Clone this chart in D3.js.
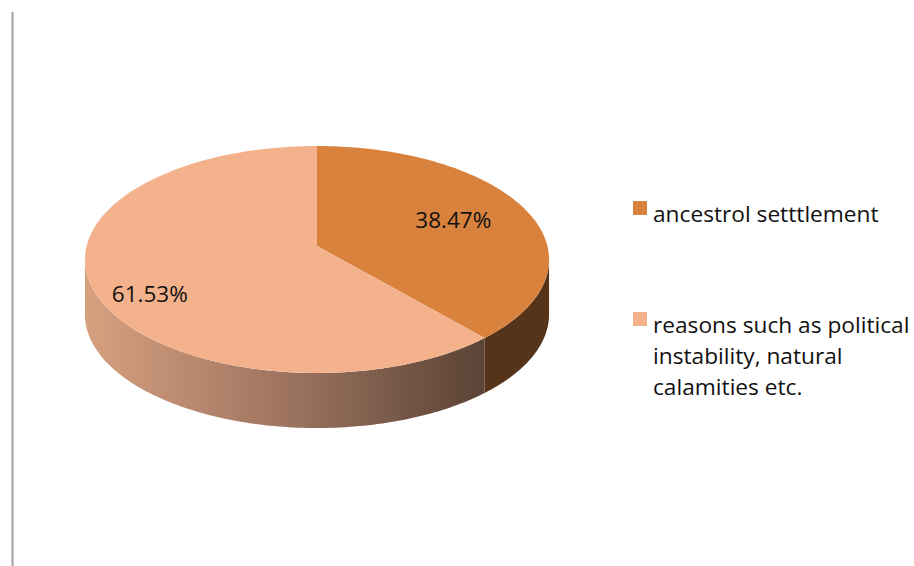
<!DOCTYPE html>
<html>
<head>
<meta charset="utf-8">
<script src="https://cdn.jsdelivr.net/npm/d3@7/dist/d3.min.js"></script>
<style>
  html, body { margin: 0; padding: 0; background: #ffffff; }
  svg { display: block; }
  text { font-family: "Open Sans", "Lato", sans-serif; fill: #111; }
</style>
</head>
<body>
<svg id="chart" width="914" height="566"></svg>
<script>
// ---- data ----
const categories = ["ancestrol setttlement", "reasons such as political instability, natural calamities etc."];
const values = [38.47, 61.53];
const valueLabels = ["38.47%", "61.53%"];

// ---- layout / style ----
const W = 914, H = 566;
const topColors = ["#D9823E", "#F4B28C"];
const cx = 317, cy = 246;      // projected pie centre
const A = 230.4, B = 111.9;    // projection scales
const k = 0.119;               // perspective factor
const depth = 55;
const labelLayout = [{ r: 0.65, dA: 0 }, { r: 0.805, dA: -10.3 * Math.PI / 180 }];

const svg = d3.select("#chart");

// left border line
svg.append("line")
  .attr("x1", 12.5).attr("x2", 12.5).attr("y1", 12).attr("y2", H)
  .attr("stroke", "#9f9f9f").attr("stroke-width", 2);

// projection of a point on the pie plane (angle a clockwise from 12 o'clock, radius r in [0,1])
function proj(a, r) {
  const u = r * Math.sin(a), v = r * Math.cos(a);
  const d = 1 + k * v;
  return [cx + A * u / d, cy - B * v / d];
}

const pie = d3.pie().sort(null).value(d => d)(values);

const defs = svg.append("defs");
const grad = defs.append("linearGradient").attr("id", "sideGrad")
  .attr("gradientUnits", "userSpaceOnUse")
  .attr("x1", 85).attr("x2", 484).attr("y1", 0).attr("y2", 0);
grad.append("stop").attr("offset", 0).attr("stop-color", "#D7A080");
grad.append("stop").attr("offset", 0.5).attr("stop-color", "#9E7460");
grad.append("stop").attr("offset", 1).attr("stop-color", "#5B4335");

const sideFills = ["#56341A", "url(#sideGrad)"];

// visible front range of the side wall
const aR = Math.acos(-k), aL = 2 * Math.PI - Math.acos(-k);
const N = 120;
function arcPts(a0, a1) {
  const pts = [];
  for (let i = 0; i <= N; i++) pts.push(proj(a0 + (a1 - a0) * i / N, 1));
  return pts;
}
const line = d3.line();

// sides
pie.forEach((p, i) => {
  const s = Math.max(p.startAngle, aR), e = Math.min(p.endAngle, aL);
  if (e <= s) return;
  const topPts = arcPts(s, e);
  const botPts = topPts.slice().reverse().map(q => [q[0], q[1] + depth]);
  svg.append("path")
    .attr("d", line(topPts.concat(botPts)) + "Z")
    .attr("fill", sideFills[i]);
});

// tops
pie.forEach((p, i) => {
  const pts = [[cx, cy]].concat(arcPts(p.startAngle, p.endAngle));
  svg.append("path")
    .attr("d", line(pts) + "Z")
    .attr("fill", topColors[i]);
});

// value labels
pie.forEach((p, i) => {
  const mid = (p.startAngle + p.endAngle) / 2 + labelLayout[i].dA;
  const [x, y] = proj(mid, labelLayout[i].r);
  svg.append("text")
    .attr("x", x).attr("y", y + 7.5)
    .attr("text-anchor", "middle")
    .attr("font-size", 22.5)
    .text(valueLabels[i]);
});

// legend
const legendX = 633, legendTextX = 653;
const legendY = [201, 312];
const maxW = 262;
categories.forEach((c, i) => {
  svg.append("rect")
    .attr("x", legendX).attr("y", legendY[i])
    .attr("width", 14).attr("height", 14)
    .attr("fill", topColors[i]);
  const t = svg.append("text")
    .attr("x", legendTextX).attr("y", legendY[i] + 21)
    .attr("font-size", 22.7);
  const words = c.split(" ");
  let lineWords = [];
  let ts = t.append("tspan").attr("x", legendTextX).attr("dy", 0);
  words.forEach(w => {
    lineWords.push(w);
    ts.text(lineWords.join(" "));
    if (ts.node().getComputedTextLength() > maxW && lineWords.length > 1) {
      lineWords.pop();
      ts.text(lineWords.join(" "));
      lineWords = [w];
      ts = t.append("tspan").attr("x", legendTextX).attr("dy", 31).text(w);
    }
  });
});
</script>
</body>
</html>
